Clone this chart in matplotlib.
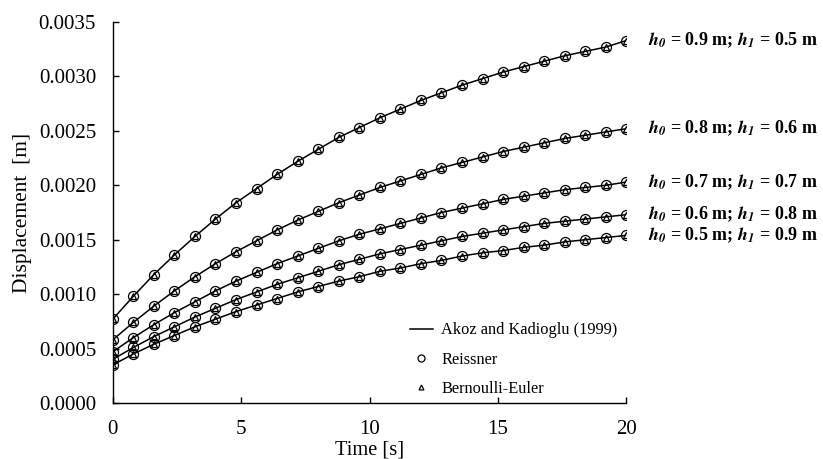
import numpy as np
import matplotlib
matplotlib.use('Agg')
import matplotlib.pyplot as plt

plt.rcParams['font.family'] = ['Liberation Serif', 'DejaVu Serif']
plt.rcParams['mathtext.fontset'] = 'stix'

# time steps (s)
t = np.arange(26) * 0.8

# displacement (m) for each beam geometry
d09 = [0.00077, 0.00098, 0.00118, 0.00136, 0.00153, 0.00169, 0.00184, 0.00197, 0.00210,
       0.00222, 0.00233, 0.00244, 0.00253, 0.00262, 0.00270, 0.00278, 0.00285, 0.00292,
       0.00298, 0.00304, 0.00309, 0.00314, 0.00319, 0.00323, 0.00327, 0.00333]
d08 = [0.00058, 0.00074, 0.00089, 0.00103, 0.00116, 0.00128, 0.00139, 0.00149, 0.00159,
       0.00168, 0.00176, 0.00184, 0.00191, 0.00198, 0.00204, 0.00210, 0.00216, 0.00221,
       0.00226, 0.00231, 0.00235, 0.00239, 0.00243, 0.00246, 0.00249, 0.00252]
d07 = [0.00047, 0.00060, 0.00072, 0.00083, 0.00093, 0.00103, 0.00112, 0.00120, 0.00128,
       0.00135, 0.00142, 0.00149, 0.00155, 0.00160, 0.00165, 0.00170, 0.00175, 0.00179,
       0.00183, 0.00187, 0.00190, 0.00193, 0.00196, 0.00198, 0.00200, 0.00203]
d06 = [0.00040, 0.00051, 0.00061, 0.00070, 0.00079, 0.00087, 0.00095, 0.00102, 0.00109,
       0.00115, 0.00121, 0.00127, 0.00132, 0.00137, 0.00141, 0.00145, 0.00149, 0.00153,
       0.00156, 0.00159, 0.00162, 0.00165, 0.00167, 0.00169, 0.00171, 0.00173]
d05 = [0.00035, 0.00045, 0.00054, 0.00062, 0.00070, 0.00077, 0.00084, 0.00090, 0.00096,
       0.00102, 0.00107, 0.00112, 0.00116, 0.00121, 0.00124, 0.00128, 0.00131, 0.00135,
       0.00138, 0.00140, 0.00143, 0.00145, 0.00148, 0.00150, 0.00152, 0.00154]
curves = [d09, d08, d07, d06, d05]
h0 = ['0.9', '0.8', '0.7', '0.6', '0.5']
h1 = ['0.5', '0.6', '0.7', '0.8', '0.9']

fig = plt.figure(figsize=(8.23, 4.59), dpi=100)
ax = fig.add_axes([0.137, 0.122, 0.624, 0.830])

for i, d in enumerate(curves):
    lab = ['Akoz and Kadioglu (1999)', 'Reissner', 'Bernoulli-Euler'] if i == 0 else [None] * 3
    ax.plot(t, d, '-', color='black', lw=1.1, label=lab[0])
    ax.plot(t, d, 'o', mfc='none', mec='black', ms=7.2, mew=0.9, label=lab[1])
    ax.plot(t, d, '^', mfc='none', mec='black', ms=5.0, mew=0.9, label=lab[2])
    txt = (r'$\mathbfit{h}_{\mathbfit{0}}$' + ' = ' + h0[i] + ' m; '
           + r'$\mathbfit{h}_{\mathbfit{1}}$' + ' = ' + h1[i] + ' m')
    ax.text(20.85, d[-1], txt, fontsize=13, fontweight='bold', va='center', ha='left')

ax.set_xlim(0, 20)
ax.set_ylim(0, 0.0035)
ax.set_xticks([0, 5, 10, 15, 20])
ax.set_yticks(np.arange(0, 0.00351, 0.0005))
ax.yaxis.set_major_formatter(matplotlib.ticker.FormatStrFormatter('%.4f'))
ax.spines['top'].set_visible(False)
ax.spines['right'].set_visible(False)
for s in ['left', 'bottom']:
    ax.spines[s].set_linewidth(1.0)
ax.tick_params(axis='both', direction='in', length=4, width=1.0, labelsize=15)
ax.tick_params(axis='x', pad=12)
ax.tick_params(axis='y', pad=12)
ax.set_xlabel('Time [s]', fontsize=14.7, labelpad=1)
ax.set_ylabel('Displacement  [m]', fontsize=15.5, labelpad=5)

ax.legend(loc='lower left', bbox_to_anchor=(0.55, -0.022), frameon=False, fontsize=11.8,
          handlelength=1.4, handletextpad=0.5, labelspacing=0.8, markerscale=0.7)

fig.savefig('out.png', dpi=100)
